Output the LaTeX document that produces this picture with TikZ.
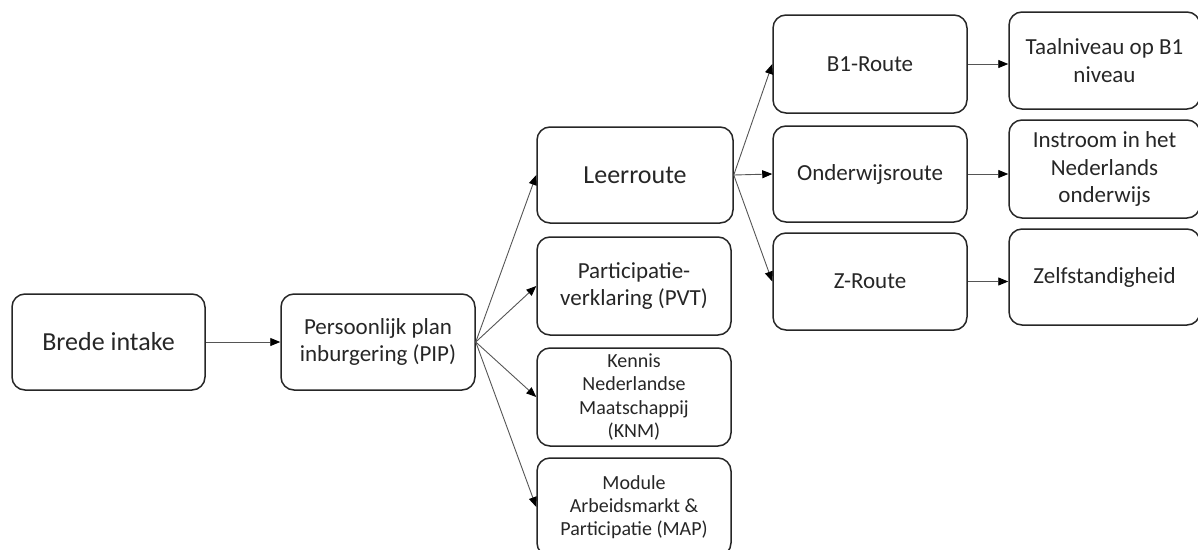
\documentclass[tikz,border=0pt]{standalone}
\usepackage{fontspec}
\setmainfont{Carlito}
\usetikzlibrary{arrows.meta}
\definecolor{boxline}{HTML}{262626}
\definecolor{txt}{HTML}{262626}
\definecolor{conn}{HTML}{555555}
\tikzset{
  box/.style={draw=boxline, line width=1.5pt, rounded corners=13pt, align=center,
    text=txt, inner sep=2pt, anchor=center},
  big/.style={font=\fontsize{26}{31}\selectfont},
  mid/.style={font=\fontsize{23}{27.5}\selectfont},
  small/.style={font=\fontsize{20}{23.3}\selectfont},
  conn/.style={draw=conn, line width=0.9pt, -{Triangle[length=10pt,width=8pt,color=black]}},
}
\begin{document}
\begin{tikzpicture}[x=1pt,y=-1pt]
\useasboundingbox (0,0) rectangle (1198,549);
\node[box,big,minimum width=193pt,minimum height=96pt] (brede) at (108.5,342) {Brede intake};
\node[box,mid,minimum width=194pt,minimum height=96pt] (pip) at (378,342) {Persoonlijk plan\\inburgering (PIP)};
\node[box,big,minimum width=196pt,minimum height=96pt] (leer) at (635,175) {Leerroute};
\node[box,mid,minimum width=194pt,minimum height=98pt] (part) at (634,286) {Participatie-\\verklaring (PVT)};
\node[box,small,minimum width=194pt,minimum height=98pt] (knm) at (634,397) {Kennis\\Nederlandse\\Maatschappij\\(KNM)};
\node[box,small,minimum width=194pt,minimum height=98pt] (map) at (634,507) {Module\\Arbeidsmarkt \&\\Participatie (MAP)};
\node[box,mid,minimum width=194pt,minimum height=98pt] (b1) at (870,64) {B1-Route};
\node[box,mid,minimum width=194pt,minimum height=96pt] (ond) at (870,174) {Onderwijsroute};
\node[box,mid,minimum width=194pt,minimum height=97pt] (zr) at (870,281.5) {Z-Route};
\node[box,mid,minimum width=191pt,minimum height=97pt] (taal) at (1104.5,60.5) {Taalniveau op B1\\niveau};
\node[box,mid,minimum width=191pt,minimum height=98pt] (instr) at (1104.5,169) {Instroom in het\\Nederlands\\onderwijs};
\node[box,mid,minimum width=191pt,minimum height=96pt] (zelf) at (1104.5,277) {Zelfstandigheid};
\draw[conn] (brede.east) -- (pip.west);
\draw[conn] (pip.east) -- (leer.west);
\draw[conn] (pip.east) -- (part.west);
\draw[conn] (pip.east) -- (knm.west);
\draw[conn] (pip.east) -- (map.west);
\draw[conn] (leer.east) -- (b1.west);
\draw[conn] (leer.east) -- (ond.west);
\draw[conn] (leer.east) -- (zr.west);
\draw[conn] (b1.east) -- (b1.east -| taal.west);
\draw[conn] (ond.east) -- (ond.east -| instr.west);
\draw[conn] (zr.east) -- (zr.east -| zelf.west);
\end{tikzpicture}
\end{document}
